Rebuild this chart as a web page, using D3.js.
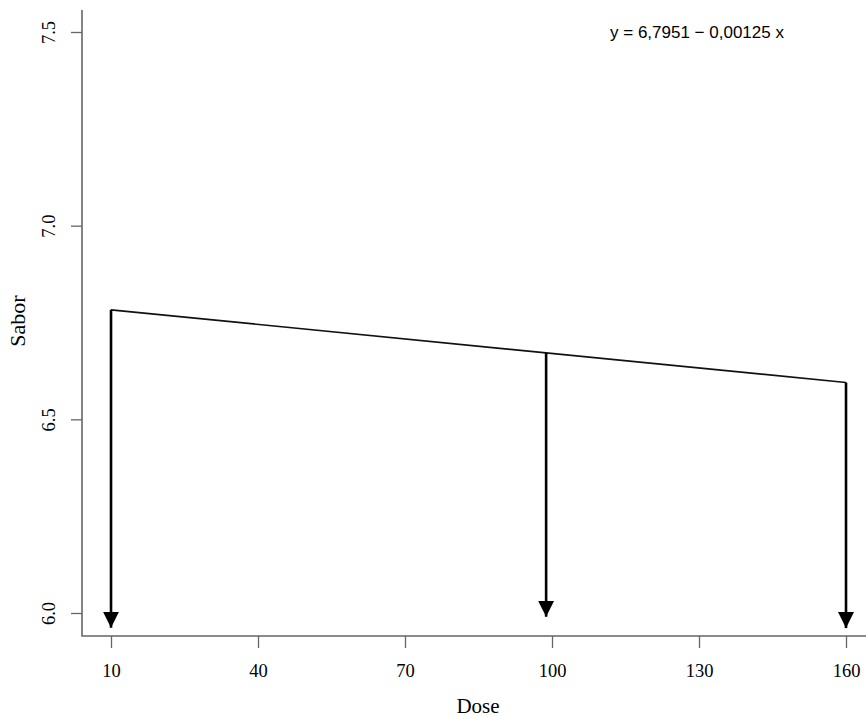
<!DOCTYPE html>
<html><head><meta charset="utf-8">
<script src="https://cdn.jsdelivr.net/npm/d3@7"></script>
<style>body{margin:0;background:#fff}</style>
</head><body>
<script>
const xTicks = [10, 40, 70, 100, 130, 160];
const yTicks = [6.0, 6.5, 7.0, 7.5];
const intercept = 6.7951;
const slope = -0.00125;
const lineDose = [10, 160];
const arrowDose = [10, 98.8, 160];
const arrowEnd = [5.962, 5.990, 5.961];
const equation = "y = 6,7951 \u2212 0,00125 x";
const xTitle = "Dose", yTitle = "Sabor";

const W = 866, H = 717;
const svg = d3.select("body").append("svg").attr("width", W).attr("height", H);
const x = d3.scaleLinear().domain([4.08, 164.08]).range([82, 866]);
const y = d3.scaleLinear().domain([5.9406, 7.5568]).range([636, 10]);
const serif = "'Liberation Serif','Times New Roman',serif";
const sans = "'Liberation Sans',Arial,sans-serif";

const defs = svg.append("defs");
defs.append("marker").attr("id","ah").attr("markerUnits","userSpaceOnUse")
  .attr("viewBox","0 0 16 16").attr("refX",16).attr("refY",8)
  .attr("markerWidth",16).attr("markerHeight",16).attr("orient","auto")
  .append("path").attr("d","M0,0 L16,8 L0,16 Z").attr("fill","#000");

// axes
const xa = svg.append("g").attr("transform","translate(0,636)")
  .call(d3.axisBottom(x).tickValues(xTicks).tickSizeOuter(0).tickSize(12).tickPadding(16).tickFormat(d3.format("d")));
const ya = svg.append("g").attr("transform","translate(82,0)")
  .call(d3.axisLeft(y).tickValues(yTicks).tickSizeOuter(0).tickSize(11).tickPadding(6).tickFormat(d3.format(".1f")));
[xa, ya].forEach(a => {
  a.attr("font-size", null).attr("font-family", null);
  a.select(".domain").remove();
  a.selectAll(".tick line").attr("stroke","#666").attr("stroke-width",1.3);
  a.selectAll("text").style("font-family",serif).style("font-size","18.5px").attr("fill","#000");
});
svg.append("path").attr("d", "M" + x.range()[0] + "," + y.range()[1] + "V" + y.range()[0] + "H" + x.range()[1])
  .attr("fill","none").attr("stroke","#666").attr("stroke-width",1.6);
ya.selectAll(".tick text").attr("transform", "rotate(-90,-33,0)")
  .attr("x",-33).attr("text-anchor","middle").attr("dy","0.35em");

svg.append("text").attr("x",478).attr("y",713).attr("text-anchor","middle")
  .attr("font-family",serif).attr("font-size",21).text(xTitle);
svg.append("text").attr("transform","translate(25,321) rotate(-90)").attr("text-anchor","middle")
  .attr("font-family",serif).attr("font-size",22).text(yTitle);

// fitted line
const f = d => intercept + slope * d;
svg.append("path").datum(lineDose)
  .attr("d", d3.line().x(d => x(d)).y(d => y(f(d))))
  .attr("fill","none").attr("stroke","#111").attr("stroke-width",1.7);

// arrows
svg.selectAll("line.arr").data(arrowDose).enter().append("line").attr("class","arr")
  .attr("x1", d => x(d)).attr("x2", d => x(d))
  .attr("y1", d => y(f(d))).attr("y2", (d,i) => y(arrowEnd[i]))
  .attr("stroke","#000").attr("stroke-width",2.6).attr("marker-end","url(#ah)");

svg.append("text").attr("x",697).attr("y",38).attr("text-anchor","middle")
  .attr("font-family",sans).attr("font-size",17).text(equation);
</script>
</body></html>
